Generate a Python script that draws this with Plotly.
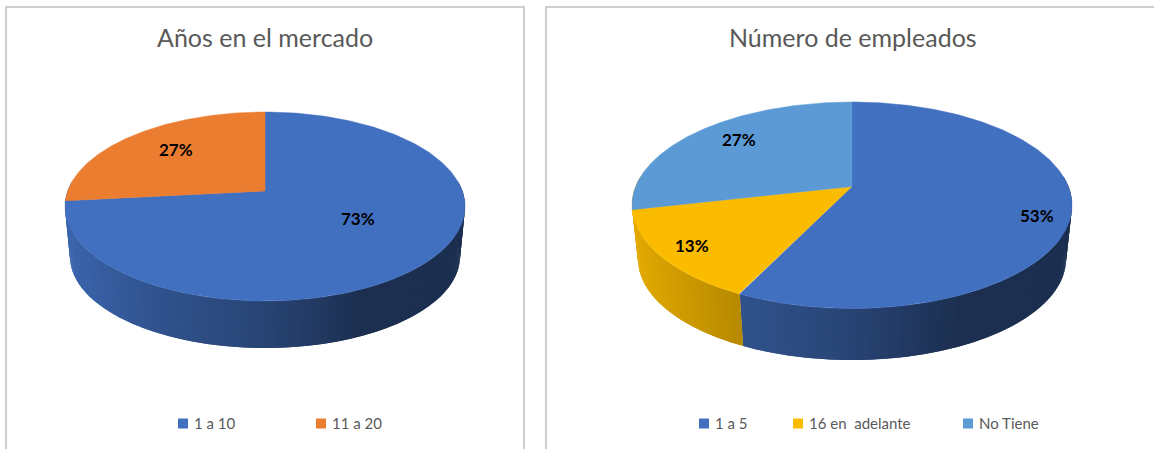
import numpy as np
import plotly.graph_objects as go

# ---- data ----
titles = ["Años en el mercado", "Número de empleados"]
cats_a = ["1 a 10", "11 a 20"]
vals_a = [11, 4]
pct_a = ["73%", "27%"]
colors_a = ["#4270C0", "#EB7D31"]

cats_b = ["1 a 5", "16 en\u00a0\u00a0adelante", "No Tiene"]
vals_b = [8, 2, 4]
pct_b = ["53%", "13%", "27%"]
colors_b = ["#4270C0", "#FBBC00", "#5B9AD5"]

TEXT = "#595959"
FONT = "Lato"

# ---- layout of the two perspective discs (page pixels) ----
# cx, top face: rx, y far, y apex, y near ; bottom face: rx, y far, y apex, y near
pie_a = dict(cx=265, top=(200, 112, 191, 301), bot=(195, 165, 241, 348))
pie_b = dict(cx=852, top=(220, 102, 186.5, 308.5), bot=(214, 158, 241, 360))


def projector(cx, face):
    rx, far, apex, near = face
    c = (far + near - 2 * apex) / (near - far)
    a = far * (1 + c) - apex
    A = rx * np.sqrt(1 - c * c)

    def proj(theta):
        u, v = np.sin(theta), np.cos(theta)
        d = 1 + c * v
        return cx + A * u / d, (a * v + apex) / d

    return proj, apex


def shade(hex_color, x, cx, rx):
    t = (x - (cx - rx)) / (2 * rx)
    f = np.interp(t, [0, 0.23, 0.5, 0.75, 1], [0.9, 0.74, 0.61, 0.42, 0.42])
    rgb = [int(hex_color[i:i + 2], 16) for i in (1, 3, 5)]
    return "rgb({},{},{})".format(*[int(round(ch * f)) for ch in rgb])


def add_pie(fig, values, colors, geo):
    cx = geo["cx"]
    top, apex = projector(cx, geo["top"])
    bot, _ = projector(cx, geo["bot"])
    rx = geo["top"][0]
    fr = np.cumsum([0] + list(values)) / sum(values) * 2 * np.pi
    # side wall, as thin shaded strips drawn right to left, each overlapping the next
    lo_vis, hi_vis = np.radians(84), np.radians(276)
    left_back = np.radians(250)
    for i, col in enumerate(colors):
        if fr[i] >= left_back:
            continue  # the wall of a slice starting past the left edge stays hidden
        end = hi_vis if fr[i + 1] >= left_back else fr[i + 1]
        lo, hi = max(fr[i], lo_vis), min(end, hi_vis)
        if hi <= lo:
            continue
        n = max(1, int(np.degrees(hi - lo) / 0.8))
        edges = np.linspace(lo, hi, n + 1)
        for k in range(n):
            e0, e1 = edges[k], edges[min(k + 2, n)]
            th = np.array([e0, e1])
            xt, yt = top(th)
            xb, yb = bot(th)
            c = shade(col, float(top(edges[k])[0]), cx, rx)
            fig.add_trace(go.Scatter(
                x=[xt[0], xt[1], xb[1], xb[0], xt[0]], y=[yt[0], yt[1], yb[1], yb[0], yt[0]],
                mode="lines", fill="toself", fillcolor=c,
                line=dict(width=0), hoverinfo="skip", showlegend=False))
    # top face
    for i, col in enumerate(colors):
        th = np.linspace(fr[i], fr[i + 1], 240)
        xs, ys = top(th)
        fig.add_trace(go.Scatter(
            x=[cx, *xs, cx], y=[apex, *ys, apex],
            mode="lines", fill="toself", fillcolor=col,
            line=dict(color=col, width=0.5), hoverinfo="skip", showlegend=False))


fig = go.Figure()
add_pie(fig, vals_a, colors_a, pie_a)
add_pie(fig, vals_b, colors_b, pie_b)

ann = []
# titles
for t, x in zip(titles, [265, 852.5]):
    ann.append(dict(x=x, y=36.5, text=t, showarrow=False, xanchor="center", yanchor="middle",
                    font=dict(family=FONT, size=25, color=TEXT)))
# percent labels
for t, (x, y) in zip(pct_a, [(358, 218.5), (176, 149.5)]):
    ann.append(dict(x=x, y=y, text=t, showarrow=False, font=dict(family=FONT, size=17, color="#000000", weight="bold")))
for t, (x, y) in zip(pct_b, [(1037, 215.5), (692, 245.5), (739, 139.5)]):
    ann.append(dict(x=x, y=y, text=t, showarrow=False, font=dict(family=FONT, size=17, color="#000000", weight="bold")))

# legends
for cats, cols, xs in [(cats_a, colors_a, [183, 321]), (cats_b, colors_b, [704, 798, 968])]:
    for name, col, x in zip(cats, cols, xs):
        fig.add_trace(go.Scatter(x=[x], y=[423.5], mode="markers", name=name, hoverinfo="name",
                                 marker=dict(symbol="square", size=10, color=col), showlegend=False))
        ann.append(dict(x=x + 8.5, y=422.5, text=name, showarrow=False, xanchor="left", yanchor="middle",
                        font=dict(family=FONT, size=15, color=TEXT)))

frames = [dict(type="rect", xref="x", yref="y", x0=6, y0=7, x1=524, y1=470,
               line=dict(color="#BFBFBF", width=1.5), layer="below"),
          dict(type="rect", xref="x", yref="y", x0=546, y0=7, x1=1175, y1=470,
               line=dict(color="#BFBFBF", width=1.5), layer="below")]

fig.update_layout(
    width=1154, height=449, margin=dict(l=0, r=0, t=0, b=0),
    paper_bgcolor="white", plot_bgcolor="white", showlegend=False,
    xaxis=dict(range=[0, 1154], visible=False, fixedrange=True),
    yaxis=dict(range=[449, 0], visible=False, fixedrange=True),
    annotations=ann, shapes=frames,
)
fig.write_html("out.html", config={"displayModeBar": False},
               post_script="document.body.style.margin='0';document.body.style.overflow='hidden';")
